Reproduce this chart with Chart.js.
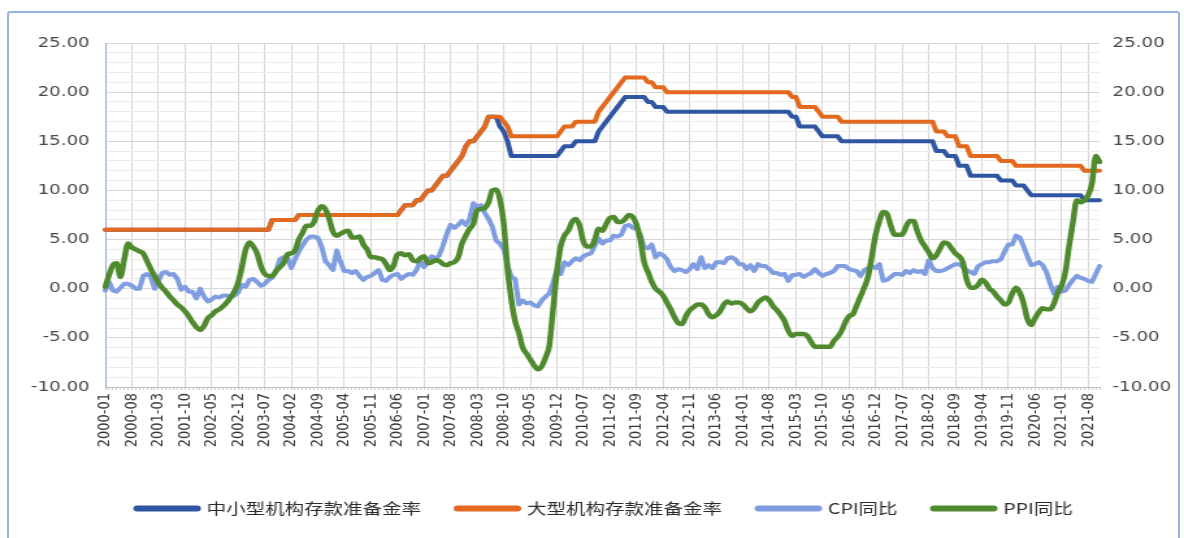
<!DOCTYPE html>
<html>
<head>
<meta charset="utf-8">
<script src="https://cdn.jsdelivr.net/npm/chart.js@4.4.1/dist/chart.umd.min.js"></script>
<style>
html,body{margin:0;padding:0;background:#ffffff;overflow:hidden;}
#page{position:relative;width:1184px;height:538px;overflow:hidden;background:#fff;}
#frame{position:absolute;left:7px;top:11px;width:1173px;height:560px;border:2px solid #98b2e0;box-sizing:border-box;border-radius:3px;pointer-events:none;}
#stretch{position:absolute;left:0;top:0;width:911px;height:538px;transform:scaleX(1.29967);transform-origin:0 0;}
</style>
</head>
<body>
<div id="page">
  <div id="stretch"><canvas id="c" width="911" height="538"></canvas></div>
  <div id="frame"></div>
</div>
<script>
// ---------- categories (monthly, 2000-01 .. 2021-11) ----------
const firstYear = 2000, lastYear = 2021, lastMonth = 11;
const months = [];
for (let y = firstYear; y <= lastYear; y++) {
  for (let m = 1; m <= 12; m++) {
    if (y === lastYear && m > lastMonth) break;
    months.push(y + '-' + String(m).padStart(2, '0'));
  }
}
const labelEvery = 7;            // a tick label every 7 months
const yMin = -10, yMax = 25;     // both value axes

// ---------- series (one row per year) ----------
const smallRRR = [
  6,6,6,6,6,6,6,6,6,6,6,6,
  6,6,6,6,6,6,6,6,6,6,6,6,
  6,6,6,6,6,6,6,6,6,6,6,6,
  6,6,6,6,6,6,6,6,7,7,7,7,
  7,7,7,7.5,7.5,7.5,7.5,7.5,7.5,7.5,7.5,7.5,
  7.5,7.5,7.5,7.5,7.5,7.5,7.5,7.5,7.5,7.5,7.5,7.5,
  7.5,7.5,7.5,7.5,7.5,7.5,8,8.5,8.5,8.5,9,9,
  9.5,10,10,10.5,11,11.5,11.5,12,12.5,13,13.5,14.5,
  15,15,15.5,16,16.5,17.5,17.5,17.5,16.5,16,15,13.5,
  13.5,13.5,13.5,13.5,13.5,13.5,13.5,13.5,13.5,13.5,13.5,13.5,
  14,14.5,14.5,14.5,15,15,15,15,15,15,16,16.5,
  17,17.5,18,18.5,19,19.5,19.5,19.5,19.5,19.5,19.5,19,
  19,18.5,18.5,18.5,18,18,18,18,18,18,18,18,
  18,18,18,18,18,18,18,18,18,18,18,18,
  18,18,18,18,18,18,18,18,18,18,18,18,
  18,17.5,17.5,16.5,16.5,16.5,16.5,16.5,16,15.5,15.5,15.5,
  15.5,15.5,15,15,15,15,15,15,15,15,15,15,
  15,15,15,15,15,15,15,15,15,15,15,15,
  15,15,15,14,14,14,13.5,13.5,13.5,12.5,12.5,12.5,
  11.5,11.5,11.5,11.5,11.5,11.5,11.5,11.5,11,11,11,11,
  10.5,10.5,10.5,10,9.5,9.5,9.5,9.5,9.5,9.5,9.5,9.5,
  9.5,9.5,9.5,9.5,9.5,9.5,9,9,9,9,9
];
const largeRRR = [
  6,6,6,6,6,6,6,6,6,6,6,6,
  6,6,6,6,6,6,6,6,6,6,6,6,
  6,6,6,6,6,6,6,6,6,6,6,6,
  6,6,6,6,6,6,6,6,7,7,7,7,
  7,7,7,7.5,7.5,7.5,7.5,7.5,7.5,7.5,7.5,7.5,
  7.5,7.5,7.5,7.5,7.5,7.5,7.5,7.5,7.5,7.5,7.5,7.5,
  7.5,7.5,7.5,7.5,7.5,7.5,8,8.5,8.5,8.5,9,9,
  9.5,10,10,10.5,11,11.5,11.5,12,12.5,13,13.5,14.5,
  15,15,15.5,16,16.5,17.5,17.5,17.5,17.5,17,16.5,15.5,
  15.5,15.5,15.5,15.5,15.5,15.5,15.5,15.5,15.5,15.5,15.5,15.5,
  16,16.5,16.5,16.5,17,17,17,17,17,17,18,18.5,
  19,19.5,20,20.5,21,21.5,21.5,21.5,21.5,21.5,21.5,21,
  21,20.5,20.5,20.5,20,20,20,20,20,20,20,20,
  20,20,20,20,20,20,20,20,20,20,20,20,
  20,20,20,20,20,20,20,20,20,20,20,20,
  20,19.5,19.5,18.5,18.5,18.5,18.5,18.5,18,17.5,17.5,17.5,
  17.5,17.5,17,17,17,17,17,17,17,17,17,17,
  17,17,17,17,17,17,17,17,17,17,17,17,
  17,17,17,16,16,16,15.5,15.5,15.5,14.5,14.5,14.5,
  13.5,13.5,13.5,13.5,13.5,13.5,13.5,13.5,13,13,13,13,
  12.5,12.5,12.5,12.5,12.5,12.5,12.5,12.5,12.5,12.5,12.5,12.5,
  12.5,12.5,12.5,12.5,12.5,12.5,12,12,12,12,12
];
const cpiYoY = [
  -0.2,0.7,-0.2,-0.3,0.1,0.5,0.5,0.3,0.0,0.0,1.3,1.5,
  1.2,0.0,0.8,1.6,1.7,1.4,1.5,1.0,-0.1,0.2,-0.3,-0.3,
  -1.0,0.0,-0.8,-1.3,-1.1,-0.8,-0.9,-0.7,-0.7,-0.8,-0.7,-0.4,
  0.4,0.2,0.9,1.0,0.7,0.3,0.5,0.9,1.1,1.8,3.0,3.2,
  3.2,2.1,3.0,3.8,4.4,5.0,5.3,5.3,5.2,4.3,2.8,2.4,
  1.9,3.9,2.7,1.8,1.8,1.6,1.8,1.3,0.9,1.2,1.3,1.6,
  1.9,0.9,0.8,1.2,1.4,1.5,1.0,1.3,1.5,1.4,1.9,2.8,
  2.2,2.7,3.3,3.0,3.4,4.4,5.6,6.5,6.2,6.5,6.9,6.5,
  7.1,8.7,8.3,8.5,7.7,7.1,6.3,4.9,4.6,4.0,2.4,1.2,
  1.0,-1.6,-1.2,-1.5,-1.4,-1.7,-1.8,-1.2,-0.8,-0.5,0.6,1.9,
  1.5,2.7,2.4,2.8,3.1,2.9,3.3,3.5,3.6,4.4,5.1,4.6,
  4.9,4.9,5.4,5.3,5.5,6.4,6.5,6.2,6.1,5.5,4.2,4.1,
  4.5,3.2,3.6,3.4,3.0,2.2,1.8,2.0,1.9,1.7,2.0,2.5,
  2.0,3.2,2.1,2.4,2.1,2.7,2.7,2.6,3.1,3.2,3.0,2.5,
  2.5,2.0,2.4,1.8,2.5,2.3,2.3,2.0,1.6,1.6,1.4,1.5,
  0.8,1.4,1.4,1.5,1.2,1.4,1.6,2.0,1.6,1.3,1.5,1.6,
  1.8,2.3,2.3,2.3,2.0,1.9,1.8,1.3,1.9,2.1,2.3,2.1,
  2.5,0.8,0.9,1.2,1.5,1.5,1.4,1.8,1.6,1.9,1.7,1.8,
  1.5,2.9,2.1,1.8,1.8,1.9,2.1,2.3,2.5,2.5,2.2,1.9,
  1.7,1.5,2.3,2.5,2.7,2.7,2.8,2.8,3.0,3.8,4.5,4.5,
  5.4,5.2,4.3,3.3,2.4,2.5,2.7,2.4,1.7,0.5,-0.5,0.2,
  -0.3,-0.2,0.4,0.9,1.3,1.1,1.0,0.8,0.7,1.5,2.3
];
const ppiYoY = [
  0.2,1.4,2.4,2.6,1.2,3.0,4.6,4.2,4.0,3.8,3.6,2.8,
  2.0,1.3,0.6,0.1,-0.3,-0.8,-1.2,-1.6,-1.9,-2.3,-2.8,-3.4,
  -3.9,-4.2,-3.8,-3.0,-2.7,-2.3,-2.1,-1.8,-1.4,-0.9,-0.3,0.6,
  2.2,4.0,4.7,4.3,3.6,2.3,1.5,1.3,1.3,1.8,2.2,2.6,
  3.5,3.6,3.9,5.0,5.7,6.4,6.4,6.8,7.9,8.4,8.1,7.1,
  5.8,5.4,5.6,5.8,5.9,5.2,5.2,5.3,4.5,4.0,3.2,3.2,
  3.1,3.0,2.5,1.9,2.4,3.5,3.6,3.4,3.5,2.9,2.8,3.1,
  3.3,2.6,2.7,2.9,2.8,2.5,2.4,2.6,2.7,3.2,4.6,5.4,
  6.1,6.6,8.0,8.1,8.2,8.8,10.0,10.1,9.1,6.6,2.0,-1.1,
  -3.3,-4.5,-6.0,-6.6,-7.2,-7.8,-8.2,-7.9,-7.0,-5.8,-2.1,1.7,
  4.3,5.4,5.9,6.8,7.1,6.4,4.8,4.3,4.3,5.0,6.1,5.9,
  6.6,7.2,7.3,6.8,6.8,7.1,7.5,7.3,6.5,5.0,2.7,1.7,
  0.7,0.0,-0.3,-0.7,-1.4,-2.1,-2.9,-3.5,-3.6,-2.8,-2.2,-1.9,
  -1.6,-1.6,-1.9,-2.6,-2.9,-2.7,-2.3,-1.6,-1.3,-1.5,-1.4,-1.4,
  -1.6,-2.0,-2.3,-2.0,-1.4,-1.1,-0.9,-1.2,-1.8,-2.2,-2.7,-3.3,
  -4.3,-4.8,-4.6,-4.6,-4.6,-4.8,-5.4,-5.9,-5.9,-5.9,-5.9,-5.9,
  -5.3,-4.9,-4.3,-3.4,-2.8,-2.6,-1.7,-0.8,0.1,1.2,3.3,5.5,
  6.9,7.8,7.6,6.4,5.5,5.5,5.5,6.3,6.9,6.9,5.8,4.9,
  4.3,3.7,3.1,3.4,4.1,4.7,4.6,4.1,3.6,3.3,2.7,0.9,
  0.1,0.1,0.4,0.9,0.6,0.0,-0.3,-0.8,-1.2,-1.6,-1.4,-0.5,
  0.1,-0.4,-1.5,-3.1,-3.7,-3.0,-2.4,-2.0,-2.1,-2.1,-1.5,-0.4,
  0.3,1.7,4.4,6.8,9.0,8.8,9.0,9.5,10.7,13.5,12.9
];
const seriesNames = ['中小型机构存款准备金率', '大型机构存款准备金率', 'CPI同比', 'PPI同比'];
const seriesColors = ['#2f56a2', '#e2691e', '#7f9de0', '#4f8a2e'];

// ---------- chart ----------
const tickFont = {family: 'DejaVu Sans', size: 14};
const yTicks = {
  stepSize: 1, autoSkip: false, color: '#474747', font: tickFont,
  callback: (v) => (v % 5 === 0 ? Number(v).toFixed(2) : '')
};
function lineSet(i, data, extra) {
  return Object.assign({
    label: seriesNames[i], data: data,
    borderColor: seriesColors[i], backgroundColor: seriesColors[i],
    borderWidth: 4, pointRadius: 0, pointHoverRadius: 0, fill: false,
    borderCapStyle: 'round', borderJoinStyle: 'round', tension: 0,
    yAxisID: 'y', order: 4 - i
  }, extra || {});
}

new Chart(document.getElementById('c'), {
  type: 'line',
  data: {
    labels: months,
    datasets: [
      lineSet(0, smallRRR),
      lineSet(1, largeRRR),
      lineSet(2, cpiYoY, {borderWidth: 4}),
      lineSet(3, ppiYoY, {borderWidth: 4.5, cubicInterpolationMode: 'monotone'})
    ]
  },
  options: {
    responsive: false, animation: false, devicePixelRatio: 1,
    layout: {padding: {left: 20, right: 0, top: 43, bottom: 12}},
    plugins: {
      tooltip: {enabled: false},
      legend: {
        position: 'bottom', reverse: true,
        labels: {
          usePointStyle: true, pointStyle: 'line', pointStyleWidth: 46,
          padding: 28, color: '#2b2b2b',
          font: {family: 'Noto Sans CJK SC', size: 15},
          generateLabels: (chart) =>
            Chart.defaults.plugins.legend.labels.generateLabels(chart).map((it) => {
              it.lineWidth = 6; it.lineCap = 'round'; return it;
            })
        }
      }
    },
    scales: {
      x: {
        type: 'category', offset: false,
        ticks: {
          autoSkip: false, minRotation: 90, maxRotation: 90, padding: 3,
          color: '#383838', font: {family: 'DejaVu Sans', size: 13},
          callback: function (v, i) { return i % labelEvery === 0 ? this.getLabelForValue(v) : ''; }
        },
        grid: {
          color: (ctx) => (ctx.index % labelEvery === 0 ? '#d6d6d6' : 'rgba(0,0,0,0)'),
          drawTicks: true, tickLength: 3, tickColor: '#cfcfcf', lineWidth: 1
        },
        border: {display: true, color: '#bfbfbf', width: 1},
        afterFit: (s) => { s.height = 86; }
      },
      y: {
        position: 'left', min: yMin, max: yMax,
        ticks: Object.assign({padding: 12}, yTicks),
        grid: {
          drawTicks: false,
          color: (ctx) => (ctx.tick && ctx.tick.value % 5 === 0 ? '#d6d6d6' : '#ececec')
        },
        border: {display: true, color: '#8eaadb', width: 1},
        afterFit: (s) => { s.width = 61; }
      },
      y1: {
        position: 'right', min: yMin, max: yMax,
        ticks: Object.assign({padding: 10}, yTicks),
        grid: {drawOnChartArea: false, drawTicks: false},
        border: {display: false},
        afterFit: (s) => { s.width = 65; }
      }
    }
  }
});
</script>
</body>
</html>
